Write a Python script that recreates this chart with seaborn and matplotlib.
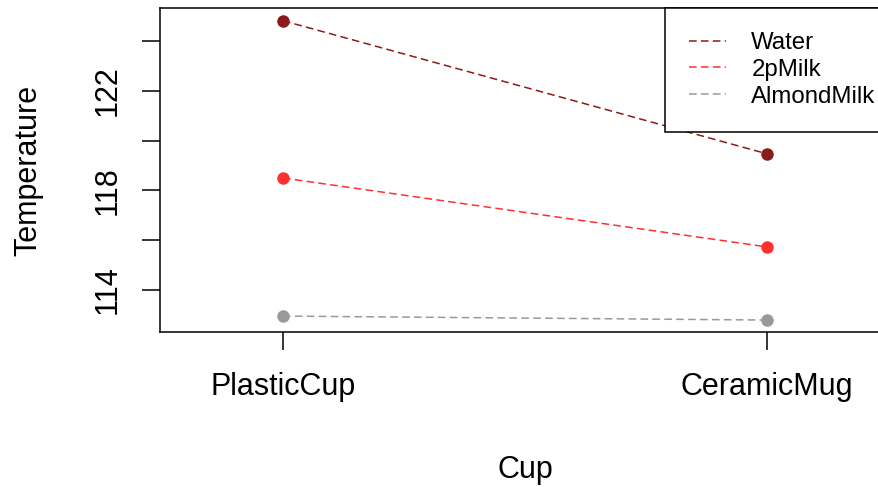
import matplotlib
matplotlib.use("Agg")
import matplotlib.pyplot as plt
import seaborn as sns
import pandas as pd
from matplotlib.lines import Line2D

cups = ["PlasticCup", "CeramicMug"]
liquids = ["Water", "2pMilk", "AlmondMilk"]
water = [124.82, 119.47]
milk2p = [118.50, 115.73]
almond = [112.95, 112.79]
colors = ["#8B1A1A", "#FF3030", "#999999"]

rows = []
for liq, vals in zip(liquids, [water, milk2p, almond]):
    for c, v in zip(cups, vals):
        rows.append({"Cup": c, "Liquid": liq, "Temperature": v})
df = pd.DataFrame(rows)

sns.set_style("white")
plt.rcParams["font.family"] = ["Liberation Sans", "DejaVu Sans"]
plt.rcParams["text.color"] = "black"
plt.rcParams["xtick.color"] = "black"
plt.rcParams["ytick.color"] = "black"

W, H = 879, 487
fig = plt.figure(figsize=(W / 100, H / 100), dpi=100)
L, R, T, B = 160, 890, 8, 332
ax = fig.add_axes([L / W, 1 - B / H, (R - L) / W, (B - T) / H])

sns.pointplot(data=df, x="Cup", y="Temperature", hue="Liquid", order=cups,
              hue_order=liquids, palette=colors, markers="o", linestyles="--",
              errorbar=None, dodge=False, legend=False, ax=ax,
              markersize=9, linewidth=1.1)
for ln in ax.lines:
    ln.set_dashes((5, 2.8))
    ln.set_markeredgewidth(0)

ax.set_xlim(-0.254, 1.254)
ax.set_ylim(112.31, 125.33)
ax.set_yticks([114, 116, 118, 120, 122, 124])
ax.set_yticklabels(["114", "", "118", "", "122", ""], rotation=90, va="center")
ax.tick_params(axis="both", direction="out", length=13, width=1.1, colors="black",
               labelsize=22, left=True, bottom=True)
ax.tick_params(axis="x", pad=16)
ax.tick_params(axis="y", pad=14)
for s in ax.spines.values():
    s.set_visible(True)
    s.set_color("black")
    s.set_linewidth(1.1)
ax.set_xlabel("")
ax.set_ylabel("")

fig.text(28 / W, 1 - 170 / H, "Temperature", rotation=90, ha="center", va="center",
         fontsize=22, color="black")
fig.text(525 / W, 1 - 470 / H, "Cup", ha="center", va="center", fontsize=22, color="black")

handles = [Line2D([0], [0], color=c, linestyle="--", dashes=(5, 2.8), linewidth=1.1) for c in colors]
leg = ax.legend(handles, liquids, loc="upper left", bbox_to_anchor=(665 / W, 1 - 8 / H),
                bbox_transform=fig.transFigure, borderaxespad=0, fontsize=17.3,
                frameon=True, fancybox=False, edgecolor="black", framealpha=1,
                handlelength=1.55, handletextpad=1.04, borderpad=1.0, labelspacing=0.2)
leg.get_frame().set_linewidth(1.1)
for t in leg.get_texts():
    t.set_color("black")

fig.savefig("out.png", dpi=100)
